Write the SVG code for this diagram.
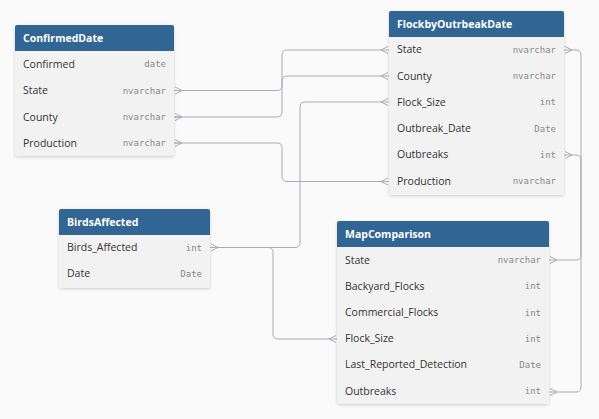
<svg xmlns="http://www.w3.org/2000/svg" width="599" height="419" viewBox="0 0 599 419">
<defs>
<filter id="sh" x="-10%" y="-10%" width="120%" height="120%">
<feDropShadow dx="0" dy="1" stdDeviation="1.5" flood-color="#000" flood-opacity="0.18"/>
</filter>
</defs>
<style>
.body{fill:#f2f2f2;}
.hdr{fill:#316594;}
.title{font-family:"Open Sans","Noto Sans",sans-serif;font-size:10.5px;font-weight:bold;fill:#ffffff;}
.f{font-family:"Open Sans","Noto Sans",sans-serif;font-size:10.5px;fill:#333333;}
.t{font-family:"DejaVu Sans Mono","Liberation Mono",monospace;font-size:9px;fill:#888888;text-anchor:end;}
.c{fill:none;stroke:#a9abb3;stroke-width:1;}
</style>
<rect width="599" height="419" fill="#fafafa"/>
<g id="connectors">
<path class="c" d="M174,90.5 H277 Q282,90.5 282,85.5 V55 Q282,50 287,50 H389"/>
<path class="c" d="M174,117 H277 Q282,117 282,112 V81 Q282,76 287,76 H389"/>
<path class="c" d="M174,143 H277 Q282,143 282,148 V176.5 Q282,181.5 287,181.5 H389"/>
<path class="c" d="M210,247.5 H295 Q300,247.5 300,242.5 V107 Q300,102 305,102 H389"/>
<path class="c" d="M210,247.5 H268 Q273,247.5 273,252.5 V334 Q273,339 278,339 H337"/>
<path class="c" d="M564,50 H576 Q581,50 581,55 V255 Q581,260 576,260 H549"/>
<path class="c" d="M564,155 H576 Q581,155 581,160 V387 Q581,392 576,392 H549"/>
<!-- crow's feet -->
<path class="c" d="M175,87 L182,90.5 L175,94 M175,90.5 H182"/>
<path class="c" d="M175,113.5 L182,117 L175,120.5 M175,117 H182"/>
<path class="c" d="M175,139.5 L182,143 L175,146.5 M175,143 H182"/>
<path class="c" d="M211,244 L218,247.5 L211,251"/>
<path class="c" d="M388,46.5 L381,50 L388,53.5"/>
<path class="c" d="M388,72.5 L381,76 L388,79.5"/>
<path class="c" d="M388,98.5 L381,102 L388,105.5"/>
<path class="c" d="M388,178 L381,181.5 L388,185"/>
<path class="c" d="M565,46.5 L572,50 L565,53.5"/>
<path class="c" d="M565,151.5 L572,155 L565,158.5"/>
<path class="c" d="M336,335.5 L329,339 L336,342.5"/>
<path class="c" d="M550,256.5 L557,260 L550,263.5"/>
<path class="c" d="M550,388.5 L557,392 L550,395.5"/>
</g>
<g id="ConfirmedDate">
<rect class="body" x="15" y="25" width="159" height="131" rx="2" filter="url(#sh)"/>
<path class="hdr" d="M17,25 H172 Q174,25 174,27 V51 H15 V27 Q15,25 17,25 Z"/>
<text class="title" x="23" y="42">ConfirmedDate</text>
<text class="f" x="23" y="67.5">Confirmed</text><text class="t" x="166" y="67">date</text>
<text class="f" x="23" y="94">State</text><text class="t" x="166" y="93.5">nvarchar</text>
<text class="f" x="23" y="120.5">County</text><text class="t" x="166" y="120">nvarchar</text>
<text class="f" x="23" y="146.5">Production</text><text class="t" x="166" y="146">nvarchar</text>
</g>
<g id="FlockbyOutrbeakDate">
<rect class="body" x="389" y="11" width="175" height="184" rx="2" filter="url(#sh)"/>
<path class="hdr" d="M391,11 H562 Q564,11 564,13 V37 H389 V13 Q389,11 391,11 Z"/>
<text class="title" x="397" y="28">FlockbyOutrbeakDate</text>
<text class="f" x="397" y="53">State</text><text class="t" x="556" y="52.5">nvarchar</text>
<text class="f" x="397" y="79.5">County</text><text class="t" x="556" y="79">nvarchar</text>
<text class="f" x="397" y="105.5">Flock_Size</text><text class="t" x="556" y="105">int</text>
<text class="f" x="397" y="132">Outbreak_Date</text><text class="t" x="556" y="131.5">Date</text>
<text class="f" x="397" y="158">Outbreaks</text><text class="t" x="556" y="157.5">int</text>
<text class="f" x="397" y="184.5">Production</text><text class="t" x="556" y="184">nvarchar</text>
</g>
<g id="BirdsAffected">
<rect class="body" x="59" y="209" width="151" height="79" rx="2" filter="url(#sh)"/>
<path class="hdr" d="M61,209 H208 Q210,209 210,211 V235 H59 V211 Q59,209 61,209 Z"/>
<text class="title" x="67" y="226">BirdsAffected</text>
<text class="f" x="67" y="251">Birds_Affected</text><text class="t" x="202" y="250.5">int</text>
<text class="f" x="67" y="277">Date</text><text class="t" x="202" y="276.5">Date</text>
</g>
<g id="MapComparison">
<rect class="body" x="337" y="221" width="212" height="183" rx="2" filter="url(#sh)"/>
<path class="hdr" d="M339,221 H547 Q549,221 549,223 V247 H337 V223 Q337,221 339,221 Z"/>
<text class="title" x="345" y="238">MapComparison</text>
<text class="f" x="345" y="263.5">State</text><text class="t" x="541" y="263">nvarchar</text>
<text class="f" x="345" y="289.5">Backyard_Flocks</text><text class="t" x="541" y="289">int</text>
<text class="f" x="345" y="316">Commercial_Flocks</text><text class="t" x="541" y="315.5">int</text>
<text class="f" x="345" y="342">Flock_Size</text><text class="t" x="541" y="341.5">int</text>
<text class="f" x="345" y="368">Last_Reported_Detection</text><text class="t" x="541" y="367.5">Date</text>
<text class="f" x="345" y="394.5">Outbreaks</text><text class="t" x="541" y="394">int</text>
</g>
</svg>
